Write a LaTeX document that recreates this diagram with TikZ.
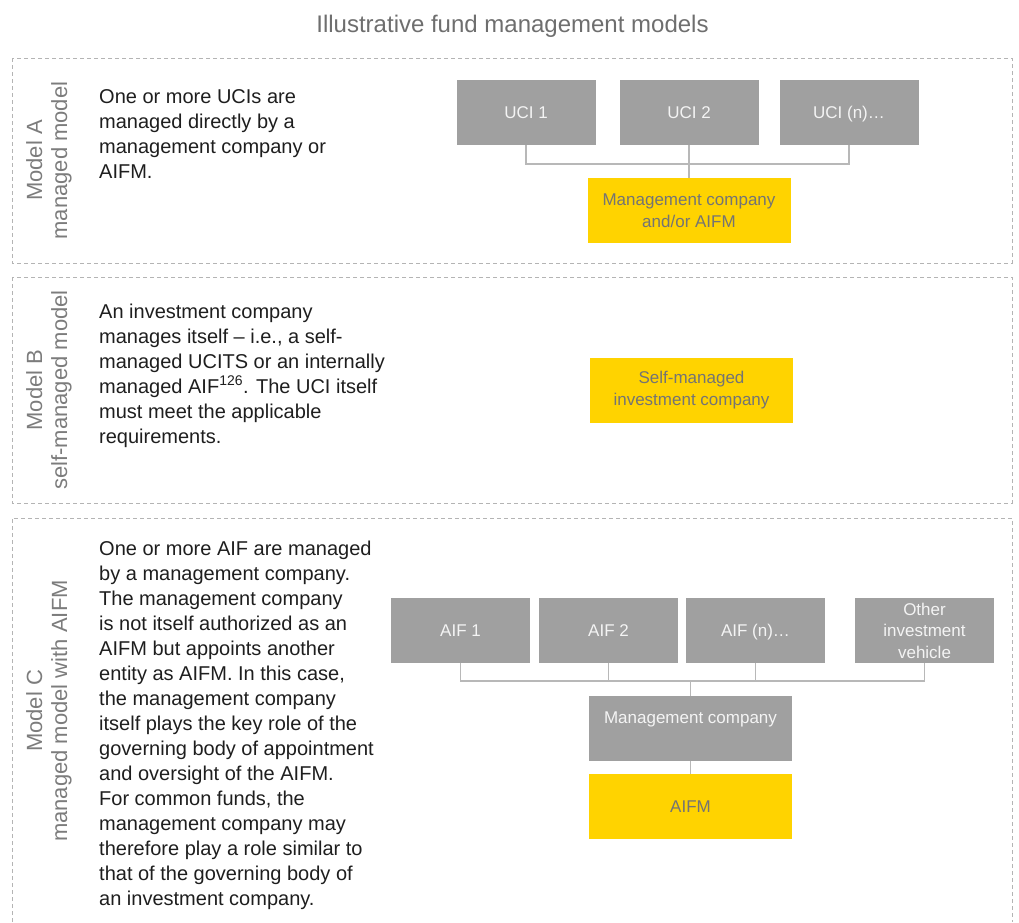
\documentclass[tikz,border=0pt]{standalone}
\usepackage{fontspec}
\setmainfont{Liberation Sans}
\definecolor{dashgray}{HTML}{B4B4B4}
\definecolor{boxgray}{HTML}{A0A0A0}
\definecolor{boxtext}{HTML}{F4F4F4}
\definecolor{eyyellow}{HTML}{FFD300}
\definecolor{ytext}{HTML}{747474}
\definecolor{conngray}{HTML}{B8B8B8}
\definecolor{labelgray}{HTML}{7C7C7C}
\definecolor{titlegray}{HTML}{6E6E6E}
\definecolor{desctext}{HTML}{1E1E1E}
\newcommand{\myln}[1]{\hbox{#1}}
\begin{document}
\begin{tikzpicture}[x=1pt,y=-1pt,
  panel/.style={draw=dashgray,line width=1pt,dash pattern=on 4pt off 3pt},
  gbox/.style={rectangle,fill=boxgray,text=boxtext,inner sep=0pt,minimum width=139pt,minimum height=65pt,align=center,font=\fontsize{17}{21.5}\selectfont},
  wbox/.style={gbox,minimum width=203pt},
  ybox/.style={rectangle,fill=eyyellow,text=ytext,inner sep=0pt,minimum width=203pt,minimum height=65pt,align=center,font=\fontsize{17}{22}\selectfont},
  conn/.style={draw=conngray,line width=1.5pt},
  sidelabel/.style={rotate=90,anchor=base,text=labelgray,font=\fontsize{22}{26}\selectfont,inner sep=0pt},
  desc/.style={anchor=base west,inner sep=0pt,text=desctext,font=\fontsize{20}{25}\selectfont}]
\useasboundingbox (0,0) rectangle (1019,922);

% title
\node[anchor=base,inner sep=0pt,text=titlegray,font=\fontsize{24}{28}\selectfont] (title) at (512.5,32) {Illustrative fund management models};

% panels
\draw[panel] (12,58) rectangle (1012,263);
\draw[panel] (12,277) rectangle (1012,503);
\draw[panel] (12,922) -- (12,518) -- (1012,518) -- (1012,922);

% side labels
\node[sidelabel] (labA1) at (42,160.5) {Model A};
\node[sidelabel] (labA2) at (67,160.5) {managed model};
\node[sidelabel] (labB1) at (42,390) {Model B};
\node[sidelabel] (labB2) at (67,390) {self-managed model};
\node[sidelabel] (labC1) at (42,711) {Model C};
\node[sidelabel] (labC2) at (67,711) {managed model with AIFM};

% descriptions
\node[desc] (descA) at (99,103) {\vtop{\myln{One or more UCIs are}\myln{managed directly by a}\myln{management company or}\myln{AIFM.}}};
\node[desc] (descB) at (99,318) {\vtop{\myln{An investment company}\myln{manages itself -- i.e., a self-}\myln{managed UCITS or an internally}\myln{managed AIF\textsuperscript{126}. The UCI itself}\myln{must meet the applicable}\myln{requirements.}}};
\node[desc] (descC) at (99,555) {\vtop{\myln{One or more AIF are managed}\myln{by a management company.}\myln{The management company}\myln{is not itself authorized as an}\myln{AIFM but appoints another}\myln{entity as AIFM. In this case,}\myln{the management company}\myln{itself plays the key role of the}\myln{governing body of appointment}\myln{and oversight of the AIFM.}\myln{For common funds, the}\myln{management company may}\myln{therefore play a role similar to}\myln{that of the governing body of}\myln{an investment company.}}};

% Model A
\node[gbox] (u1) at (526,112.5) {UCI 1};
\node[gbox] (u2) at (689,112.5) {UCI 2};
\node[gbox] (u3) at (849,112.5) {UCI \smash{(n)}\dots};
\node[ybox] (mA) at (689,210.5) {Management company\\and/or AIFM};
\coordinate (jA) at (689,164);
\draw[conn] (u1.south) |- (jA) -| (u3.south);
\draw[conn] (u2.south) -- (mA.north);

% Model B
\node[ybox] (sB) at (691.5,390.5) {Self-managed\\investment company};

% Model C
\node[gbox] (a1) at (460.5,630.5) {AIF 1};
\node[gbox] (a2) at (608.5,630.5) {AIF 2};
\node[gbox] (an) at (755.5,630.5) {AIF \smash{(n)}\dots};
\node[gbox] (oth) at (924.5,630.5) {Other\\investment\\vehicle};
\node[wbox] (mC) at (690.5,728.5) {Management company\\\mbox{}};
\node[ybox] (aifm) at (690.5,806.5) {AIFM};
\coordinate (jC) at (690.5,681);
\draw[conn] (a1.south) |- (jC) -| (oth.south);
\draw[conn] (a2.south) -- (a2.south |- jC);
\draw[conn] (an.south) -- (an.south |- jC);
\draw[conn] (jC) -- (mC.north);
\draw[conn] (mC.south) -- (aifm.north);
\end{tikzpicture}
\end{document}
